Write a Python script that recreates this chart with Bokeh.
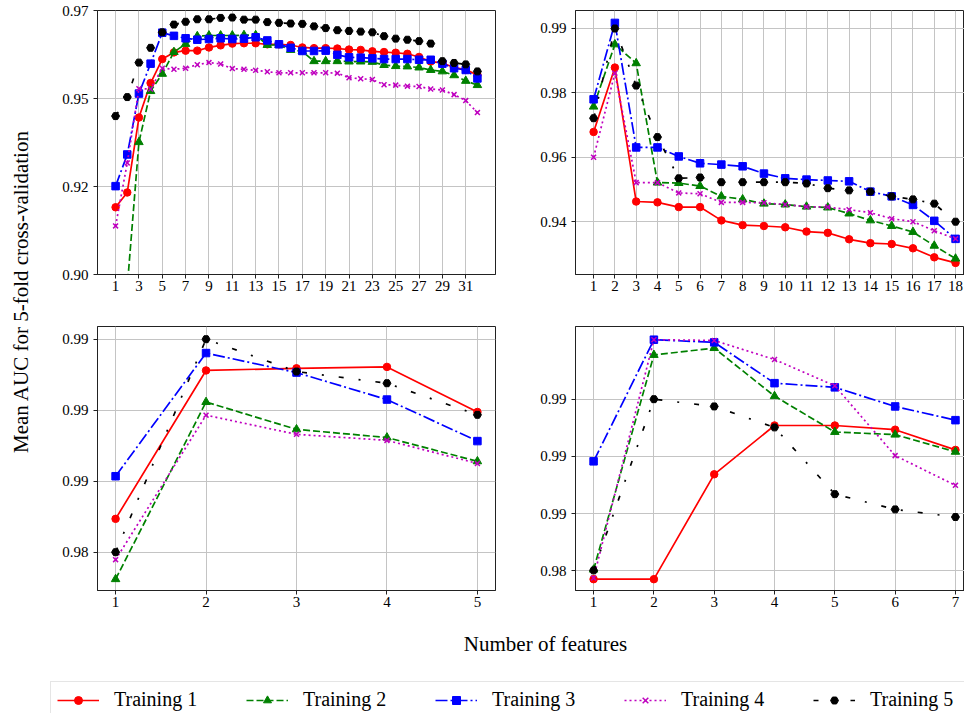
import numpy as np
from bokeh.plotting import figure
from bokeh.models import Range1d, FixedTicker, Legend, LegendItem
from bokeh.layouts import row, column
from bokeh.embed import file_html
from bokeh.resources import INLINE
from bokeh.core.properties import value

FONT = "Liberation Serif"

# ---------------- data ----------------
series_names = ["Training 1", "Training 2", "Training 3", "Training 4", "Training 5"]

# top-left panel
tl_x = list(range(1, 33))
tl_t1 = [0.9191, 0.9233, 0.9446, 0.9544, 0.9612, 0.9631, 0.9636, 0.9636, 0.9645, 0.9651, 0.9656, 0.9657,
         0.9657, 0.9654, 0.9654, 0.9652, 0.9645, 0.9643, 0.9643, 0.9642, 0.9639, 0.9638, 0.9634, 0.9632,
         0.9630, 0.9627, 0.9618, 0.9605, 0.9601, 0.9588, 0.9582, 0.9567]
tl_t2 = [0.8700, 0.8965, 0.9376, 0.9521, 0.9570, 0.9632, 0.9655, 0.9677, 0.9679, 0.9679, 0.9679, 0.9680,
         0.9680, 0.9652, 0.9652, 0.9638, 0.9634, 0.9606, 0.9606, 0.9606, 0.9605, 0.9605, 0.9604, 0.9595,
         0.9592, 0.9591, 0.9588, 0.9581, 0.9577, 0.9566, 0.9550, 0.9538]
tl_t3 = [0.9251, 0.9341, 0.9514, 0.9599, 0.9687, 0.9678, 0.9671, 0.9667, 0.9669, 0.9671, 0.9669, 0.9670,
         0.9674, 0.9665, 0.9654, 0.9644, 0.9635, 0.9635, 0.9636, 0.9624, 0.9617, 0.9616, 0.9614, 0.9612,
         0.9612, 0.9612, 0.9610, 0.9610, 0.9599, 0.9586, 0.9581, 0.9557]
tl_t4 = [0.9138, 0.9317, 0.9528, 0.9527, 0.9586, 0.9583, 0.9586, 0.9596, 0.9602, 0.9598, 0.9585, 0.9583,
         0.9580, 0.9576, 0.9573, 0.9573, 0.9573, 0.9573, 0.9573, 0.9572, 0.9559, 0.9556, 0.9554, 0.9539,
         0.9538, 0.9535, 0.9534, 0.9527, 0.9524, 0.9511, 0.9494, 0.9460]
tl_t5 = [0.9450, 0.9504, 0.9602, 0.9644, 0.9688, 0.9710, 0.9718, 0.9725, 0.9725, 0.9729, 0.9730, 0.9724,
         0.9724, 0.9717, 0.9715, 0.9713, 0.9712, 0.9705, 0.9700, 0.9694, 0.9692, 0.9690, 0.9688, 0.9677,
         0.9670, 0.9667, 0.9663, 0.9656, 0.9606, 0.9601, 0.9597, 0.9577]
tl_xticks = list(range(1, 32, 2))
tl_yticks = [0.9, 0.925, 0.95, 0.975]
tl_ylabels = ["0.90", "0.92", "0.95", "0.97"]

# top-right panel
tr_x = list(range(1, 19))
tr_t1 = [0.9659, 0.9809, 0.9497, 0.9495, 0.9484, 0.9484, 0.9453, 0.9442, 0.9440, 0.9437, 0.9427, 0.9424,
         0.9409, 0.9400, 0.9398, 0.9388, 0.9367, 0.9354]
tr_t2 = [0.9718, 0.9863, 0.9819, 0.9541, 0.9540, 0.9533, 0.9509, 0.9502, 0.9492, 0.9490, 0.9485, 0.9483,
         0.9469, 0.9453, 0.9440, 0.9426, 0.9394, 0.9364]
tr_t3 = [0.9735, 0.9913, 0.9623, 0.9623, 0.9602, 0.9586, 0.9583, 0.9579, 0.9562, 0.9551, 0.9548, 0.9546,
         0.9544, 0.9520, 0.9509, 0.9489, 0.9452, 0.9410]
tr_t4 = [0.9600, 0.9796, 0.9541, 0.9541, 0.9517, 0.9515, 0.9495, 0.9495, 0.9494, 0.9490, 0.9485, 0.9484,
         0.9478, 0.9471, 0.9457, 0.9450, 0.9429, 0.9410]
tr_t5 = [0.9691, 0.9900, 0.9767, 0.9647, 0.9551, 0.9553, 0.9542, 0.9542, 0.9542, 0.9542, 0.9539, 0.9528,
         0.9523, 0.9520, 0.9509, 0.9502, 0.9492, 0.9450]
tr_xticks = list(range(1, 19))
tr_yticks = [0.945, 0.96, 0.975, 0.99]
tr_ylabels = ["0.94", "0.96", "0.98", "0.99"]

# bottom-left panel
bl_x = [1, 2, 3, 4, 5]
bl_t1 = [0.98494, 0.98912, 0.98918, 0.98922, 0.98795]
bl_t2 = [0.98324, 0.98823, 0.98746, 0.98723, 0.98656]
bl_t3 = [0.98614, 0.98961, 0.98906, 0.98830, 0.98713]
bl_t4 = [0.98379, 0.98786, 0.98732, 0.98715, 0.98650]
bl_t5 = [0.98400, 0.99000, 0.98909, 0.98876, 0.98787]
bl_xticks = [1, 2, 3, 4, 5]
bl_yticks = [0.984, 0.986, 0.988, 0.99]
bl_ylabels = ["0.98", "0.99", "0.99", "0.99"]

# bottom-right panel
br_x = [1, 2, 3, 4, 5, 6, 7]
br_t1 = [0.98428, 0.98428, 0.98703, 0.98831, 0.98831, 0.98820, 0.98767]
br_t2 = [0.98453, 0.99016, 0.99034, 0.98908, 0.98814, 0.98807, 0.98762]
br_t3 = [0.98737, 0.99056, 0.99049, 0.98942, 0.98931, 0.98881, 0.98845]
br_t4 = [0.98431, 0.99056, 0.99054, 0.99004, 0.98935, 0.98752, 0.98674]
br_t5 = [0.98451, 0.98900, 0.98881, 0.98826, 0.98651, 0.98611, 0.98591]
br_xticks = [1, 2, 3, 4, 5, 6, 7]
br_yticks = [0.9845, 0.986, 0.9875, 0.989]
br_ylabels = ["0.98", "0.99", "0.99", "0.99"]

x_title = "Number of features"
y_title = "Mean AUC for 5-fold cross-validation"

# ---------------- styles ----------------
colors = ["#ff0000", "#008000", "#0000ff", "#bf00bf", "#000000"]
dashes = ["solid", "7 3", "12 3 2 3", "2 3", "5 15 2 15"]
markers = ["circle", "triangle", "square", "x", "hex"]
msizes = [7.5, 8.5, 7.5, 7, 8]
LW = 1.7


def panel(xs, ys_list, xr, yr, xticks, yticks, ylabels, width, height, bl, br, bt, bb):
    p = figure(width=width, height=height, x_range=Range1d(*xr), y_range=Range1d(*yr),
               output_backend="svg", toolbar_location=None,
               min_border_left=bl, min_border_right=br, min_border_top=bt, min_border_bottom=bb)
    p.outline_line_color = "#222222"
    p.outline_line_width = 1
    p.xaxis.ticker = FixedTicker(ticks=xticks)
    p.yaxis.ticker = FixedTicker(ticks=yticks)
    p.yaxis.major_label_overrides = {t: l for t, l in zip(yticks, ylabels)}
    for ax in p.axis:
        ax.axis_line_color = "#222222"
        ax.major_tick_line_color = "#222222"
        ax.major_tick_out = 4
        ax.major_tick_in = 0
        ax.minor_tick_line_color = None
        ax.major_label_text_font = FONT
        ax.major_label_text_font_size = "15px"
        ax.major_label_text_color = "black"
    p.xaxis.major_label_standoff = 2
    p.yaxis.major_label_standoff = 5
    p.grid.grid_line_color = "#c4c4c4"
    p.grid.grid_line_width = 1
    for ys, c, d, m, s in zip(ys_list, colors, dashes, markers, msizes):
        p.line(xs, ys, line_color=c, line_width=LW, line_dash=d)
        if m == "x":
            p.scatter(xs, ys, marker=m, size=s, line_color=c, line_width=1.5)
        else:
            p.scatter(xs, ys, marker=m, size=s, fill_color=c, line_color=c)
    return p


# layout starts at page (0, 0)
tl = panel(tl_x, [tl_t1, tl_t2, tl_t3, tl_t4, tl_t5], (-0.55, 33.55), (0.9, 0.975),
           tl_xticks, tl_yticks, tl_ylabels, 452, 300, 49, 5, 10, 26)
tr = panel(tr_x, [tr_t1, tr_t2, tr_t3, tr_t4, tr_t5], (0.15, 18.42), (0.9327, 0.99419),
           tr_xticks, tr_yticks, tr_ylabels, 464, 300, 75, 0, 10, 26)
bl = panel(bl_x, [bl_t1, bl_t2, bl_t3, bl_t4, bl_t5], (0.8, 5.2), (0.982921, 0.990358),
           bl_xticks, bl_yticks, bl_ylabels, 452, 316, 49, 5, 26, 26)
br = panel(br_x, [br_t1, br_t2, br_t3, br_t4, br_t5], (0.7, 7.15), (0.983983, 0.990906),
           br_xticks, br_yticks, br_ylabels, 464, 316, 75, 0, 26, 26)


def blank(width, height):
    p = figure(width=width, height=height, x_range=Range1d(0, width), y_range=Range1d(0, height),
               output_backend="svg", toolbar_location=None, x_axis_type=None, y_axis_type=None,
               min_border=0)
    p.outline_line_color = None
    p.grid.visible = False
    return p


ylab = blank(48, 616)
ylab.text(x=[20], y=[325], text=[y_title], angle=np.pi / 2, text_align="center",
          text_baseline="middle", text_font=value(FONT), text_font_size="21px", text_color="black")

bottom = blank(964, 97)
bottom.text(x=[545], y=[70], text=[x_title], text_align="center", text_baseline="middle",
            text_font=value(FONT), text_font_size="21px", text_color="black")

# legend proxies (one point each, placed outside the visible range)
items = []
for name, c, d, m, s in zip(series_names, colors, dashes, markers, msizes):
    lr = bottom.line([-1000, -999], [-1000, -1000], line_color=c, line_width=LW, line_dash=d)
    if m == "x":
        sr = bottom.scatter([-1000], [-1000], marker=m, size=s, line_color=c, line_width=1.5)
    else:
        sr = bottom.scatter([-1000], [-1000], marker=m, size=s, fill_color=c, line_color=c)
    items.append(LegendItem(label=name, renderers=[lr, sr]))

legend = Legend(items=items, orientation="horizontal", location=(50, -5),
                label_text_font=FONT, label_text_font_size="20px", label_text_color="black",
                glyph_width=42, glyph_height=20, label_standoff=15, label_width=88,
                spacing=44, padding=6, margin=0,
                border_line_color="#cccccc", border_line_width=1, background_fill_alpha=1)
bottom.add_layout(legend)

root = column(row(ylab, column(row(tl, tr), row(bl, br))), bottom)

open("out.html", "w").write(file_html(root, INLINE))
